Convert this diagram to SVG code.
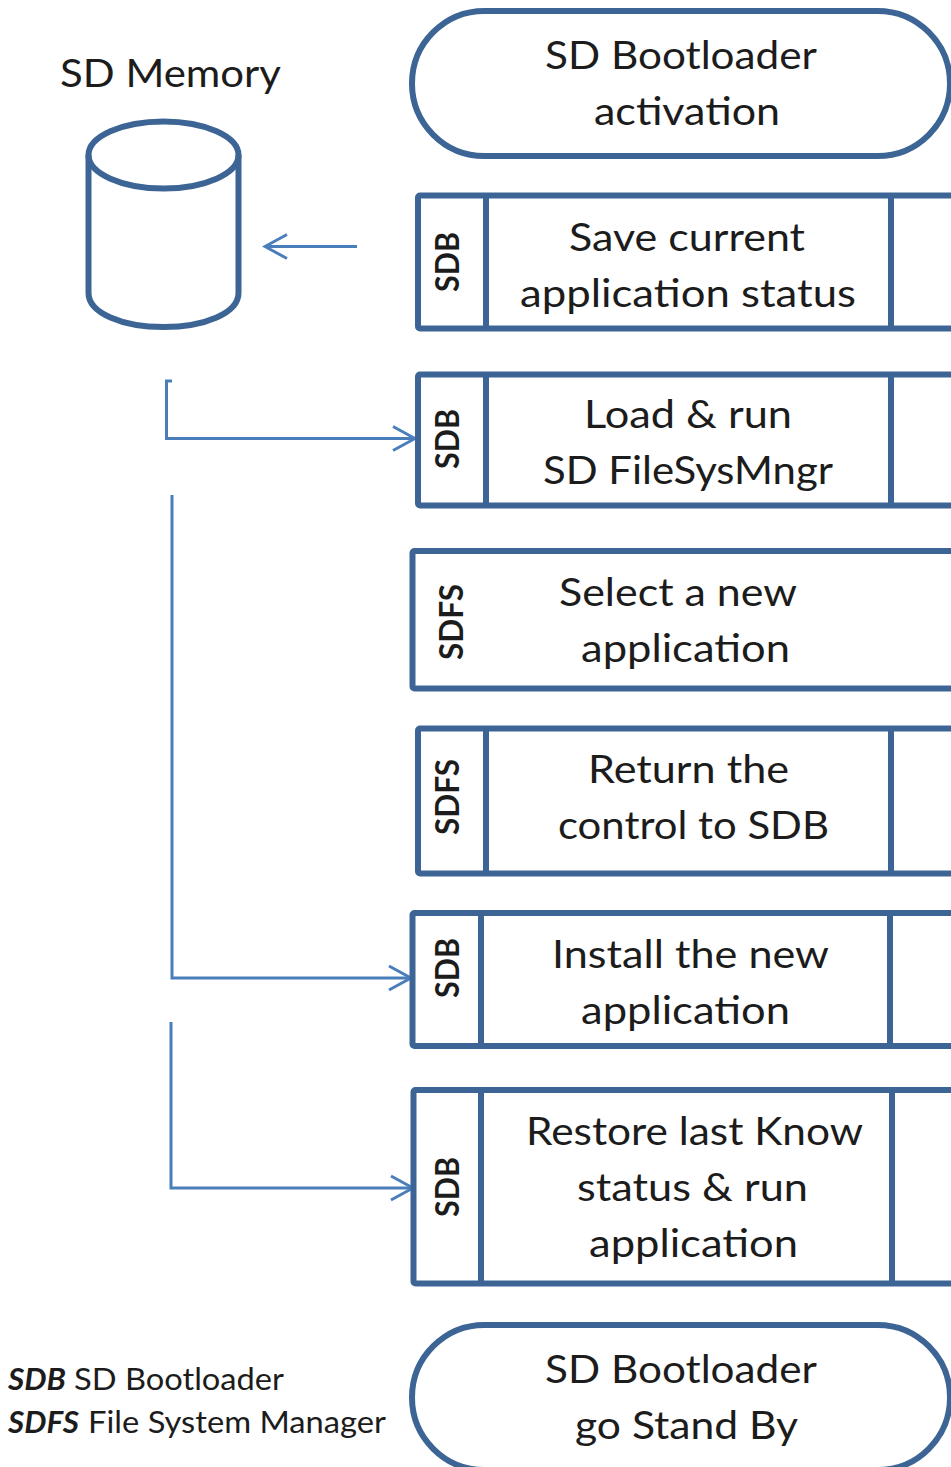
<svg xmlns="http://www.w3.org/2000/svg" width="951" height="1467" viewBox="0 0 951 1467">
<style>
text{font-family:Lato,"Liberation Sans",sans-serif;fill:#1c1c1c}
.t{font-size:39px;text-anchor:start}
.s{font-size:32px;font-weight:700;text-anchor:middle}
.l{font-size:31px}
.bi{font-weight:700;font-style:italic}
.b{fill:#fff;stroke:#3c6595;stroke-width:6}
.d{fill:none;stroke:#3c6595;stroke-width:6}
.c{fill:none;stroke:#4a7ebb;stroke-width:3}
</style>
<defs><marker id="a" markerUnits="userSpaceOnUse" markerWidth="26" markerHeight="30" refX="23" refY="13" orient="auto" viewBox="0 0 26 26"><path d="M1 1L23 13L1 25" fill="none" stroke="#4a7ebb" stroke-width="3"/></marker></defs>
<rect width="951" height="1467" fill="#fff"/>
<g id="memory"><text class="t" x="60" y="87" textLength="221" lengthAdjust="spacingAndGlyphs">SD Memory</text>
<path class="d" d="M88.500 155V293C88.500 313 122 327 163.500 327S238.500 313 238.500 293V155"/><ellipse class="d" cx="163.500" cy="155" rx="75" ry="33.500"/></g>
<g id="connectors">
<path class="c" d="M357 246.500H265" marker-end="url(#a)"/>
<path class="c" d="M172 381H166.500V438.500H415" marker-end="url(#a)"/>
<path class="c" d="M172 495V978H411" marker-end="url(#a)"/>
<path class="c" d="M171 1022V1188H413" marker-end="url(#a)"/>
</g>
<g id="start"><rect class="b" x="412" y="11" width="538" height="145" rx="72.500"/>
<text class="t" x="545" y="69" textLength="272" lengthAdjust="spacingAndGlyphs">SD Bootloader</text>
<text class="t" x="594" y="125" textLength="186" lengthAdjust="spacingAndGlyphs">activation</text></g>
<g id="save"><rect class="b" x="418" y="195.500" width="560" height="133" rx="2"/><path class="d" d="M486 195V329M891 195V329"/>
<text class="s" transform="translate(459 262) rotate(-90)" textLength="60" lengthAdjust="spacingAndGlyphs">SDB</text>
<text class="t" x="569" y="251" textLength="236" lengthAdjust="spacingAndGlyphs">Save current</text>
<text class="t" x="520" y="307" textLength="336" lengthAdjust="spacingAndGlyphs">application status</text></g>
<g id="load"><rect class="b" x="418" y="374.500" width="560" height="131" rx="2"/><path class="d" d="M486 374V506M891 374V506"/>
<text class="s" transform="translate(459 439) rotate(-90)" textLength="60" lengthAdjust="spacingAndGlyphs">SDB</text>
<text class="t" x="584" y="428" textLength="208" lengthAdjust="spacingAndGlyphs">Load &amp; run</text>
<text class="t" x="543" y="484" textLength="290" lengthAdjust="spacingAndGlyphs">SD FileSysMngr</text></g>
<g id="select"><rect class="b" x="412.500" y="551" width="560" height="137.500" rx="2"/>
<text class="s" transform="translate(463 622) rotate(-90)" textLength="76" lengthAdjust="spacingAndGlyphs">SDFS</text>
<text class="t" x="559" y="606" textLength="238" lengthAdjust="spacingAndGlyphs">Select a new</text>
<text class="t" x="581" y="662" textLength="209" lengthAdjust="spacingAndGlyphs">application</text></g>
<g id="return"><rect class="b" x="418" y="728.500" width="560" height="145" rx="2"/><path class="d" d="M486 728V874M891 728V874"/>
<text class="s" transform="translate(459 797) rotate(-90)" textLength="76" lengthAdjust="spacingAndGlyphs">SDFS</text>
<text class="t" x="588" y="783" textLength="201" lengthAdjust="spacingAndGlyphs">Return the</text>
<text class="t" x="558" y="839" textLength="271" lengthAdjust="spacingAndGlyphs">control to SDB</text></g>
<g id="install"><rect class="b" x="412.500" y="913" width="560" height="133" rx="2"/><path class="d" d="M481 913V1046M890 913V1046"/>
<text class="s" transform="translate(459 968) rotate(-90)" textLength="60" lengthAdjust="spacingAndGlyphs">SDB</text>
<text class="t" x="552" y="968" textLength="277" lengthAdjust="spacingAndGlyphs">Install the new</text>
<text class="t" x="581" y="1024" textLength="209" lengthAdjust="spacingAndGlyphs">application</text></g>
<g id="restore"><rect class="b" x="413.500" y="1090" width="560" height="193.500" rx="2"/><path class="d" d="M481 1090V1284M892 1090V1284"/>
<text class="s" transform="translate(459 1187) rotate(-90)" textLength="60" lengthAdjust="spacingAndGlyphs">SDB</text>
<text class="t" x="526" y="1145" textLength="337" lengthAdjust="spacingAndGlyphs">Restore last Know</text>
<text class="t" x="577" y="1201" textLength="231" lengthAdjust="spacingAndGlyphs">status &amp; run</text>
<text class="t" x="589" y="1257" textLength="209" lengthAdjust="spacingAndGlyphs">application</text></g>
<g id="standby"><rect class="b" x="412" y="1325" width="538" height="145" rx="72.500"/>
<text class="t" x="545" y="1383" textLength="272" lengthAdjust="spacingAndGlyphs">SD Bootloader</text>
<text class="t" x="575" y="1439" textLength="223" lengthAdjust="spacingAndGlyphs">go Stand By</text></g>
<g id="legend">
<text class="l bi" x="8" y="1390" textLength="58" lengthAdjust="spacingAndGlyphs">SDB</text><text class="l" x="74" y="1390" textLength="210" lengthAdjust="spacingAndGlyphs">SD Bootloader</text>
<text class="l bi" x="8" y="1433" textLength="71" lengthAdjust="spacingAndGlyphs">SDFS</text><text class="l" x="88" y="1433" textLength="298" lengthAdjust="spacingAndGlyphs">File System Manager</text>
</g>
</svg>
